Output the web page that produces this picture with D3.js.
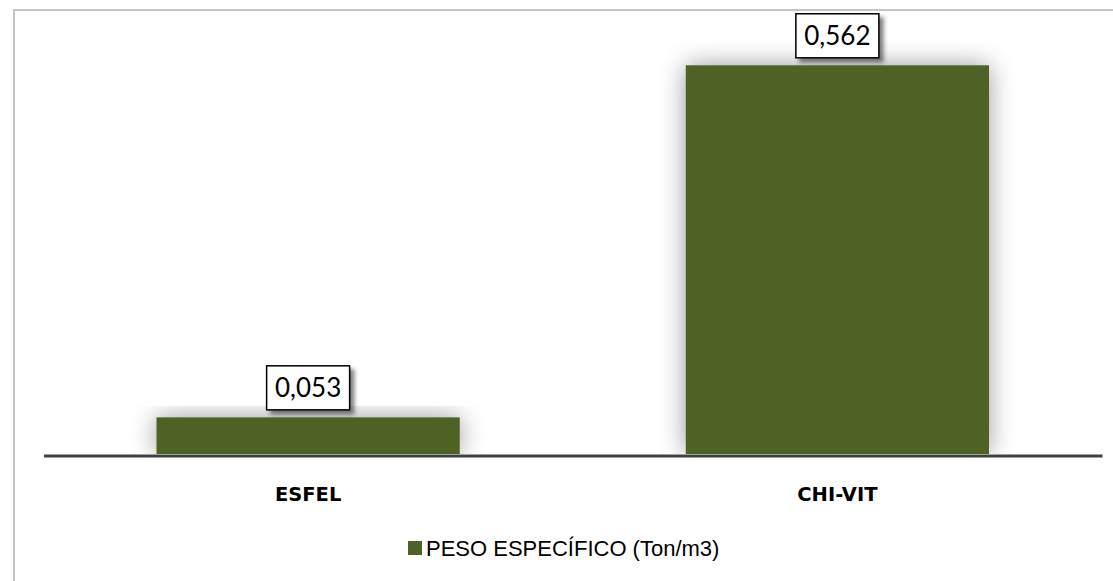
<!DOCTYPE html>
<html>
<head>
<meta charset="utf-8">
<script src="https://cdn.jsdelivr.net/npm/d3@7/dist/d3.min.js"></script>
<style>
  html, body { margin: 0; padding: 0; background: #fff; }
  svg { display: block; }
</style>
</head>
<body>
<svg id="chart" width="1113" height="581"></svg>
<script>
// Chart data
const categories = ["ESFEL", "CHI-VIT"];
const values = [0.053, 0.562];
const valueLabels = ["0,053", "0,562"];
const seriesName = "PESO ESPECÍFICO (Ton/m3)";
const yDomain = [0, 0.6];

const W = 1113, H = 581;
const svg = d3.select("#chart");
const barColor = "#4f6228";

// Filters: soft halo around bars, drop shadow under labels
const defs = svg.append("defs");
const halo = defs.append("filter").attr("id", "halo")
  .attr("x", "-30%").attr("y", "-30%").attr("width", "160%").attr("height", "160%");
halo.append("feGaussianBlur").attr("in", "SourceAlpha").attr("stdDeviation", 13).attr("result", "b");
halo.append("feComponentTransfer").attr("in", "b").attr("result", "c")
  .append("feFuncA").attr("type", "linear").attr("slope", 0.4);
const hm = halo.append("feMerge");
hm.append("feMergeNode").attr("in", "c");
hm.append("feMergeNode").attr("in", "SourceGraphic");

const ds = defs.append("filter").attr("id", "lblShadow")
  .attr("x", "-20%").attr("y", "-20%").attr("width", "150%").attr("height", "160%");
ds.append("feDropShadow").attr("dx", 4).attr("dy", 4).attr("stdDeviation", 2.2)
  .attr("flood-color", "#000").attr("flood-opacity", 0.5);

// Scales
const x = d3.scaleBand().domain(categories).range([43.5, 1102]).paddingInner(0).paddingOuter(0);
const y = d3.scaleLinear().domain(yDomain).range([454, 39]);
const barFrac = 0.573;

// Keep the bar halo above the category axis
defs.append("clipPath").attr("id", "plotClip")
  .append("rect").attr("x", 0).attr("y", 0).attr("width", W).attr("height", y(0));

// Chart frame
svg.append("rect")
  .attr("x", 14).attr("y", 10).attr("width", W + 20).attr("height", H + 20)
  .attr("fill", "none").attr("stroke", "#c4c4c4").attr("stroke-width", 2);

const data = categories.map((c, i) => ({ cat: c, v: values[i], lbl: valueLabels[i] }));

// Bars
svg.append("g").attr("clip-path", "url(#plotClip)")
  .selectAll("rect").data(data).join("rect")
  .attr("x", d => x(d.cat) + x.bandwidth() * (1 - barFrac) / 2)
  .attr("width", x.bandwidth() * barFrac)
  .attr("y", d => y(d.v))
  .attr("height", d => y(0) - y(d.v))
  .attr("fill", barColor)
  .attr("filter", "url(#halo)");

// Category axis
const xAxis = svg.append("g").attr("transform", `translate(0,${y(0) + 1.5})`)
  .call(d3.axisBottom(x).tickSize(0).tickPadding(0));
xAxis.select(".domain").attr("stroke", "#404040").attr("stroke-width", 3);
xAxis.selectAll(".tick text")
  .attr("dy", 0).attr("y", 45.5)
  .attr("font-family", "'DejaVu Sans', sans-serif")
  .attr("font-weight", "bold")
  .attr("font-size", 19.5)
  .attr("fill", "#000");

// Value labels in boxes
const lbl = svg.append("g").selectAll("g").data(data).join("g")
  .attr("transform", d => `translate(${x(d.cat) + x.bandwidth() / 2},${y(d.v) - 7.5})`);
lbl.append("rect")
  .attr("x", -41.5).attr("y", -44).attr("width", 83).attr("height", 44)
  .attr("fill", "#fff").attr("stroke", "#000").attr("stroke-width", 1.5)
  .attr("filter", "url(#lblShadow)");
lbl.append("text")
  .attr("x", 0).attr("y", -12.5)
  .attr("text-anchor", "middle")
  .attr("font-family", "Lato, sans-serif")
  .attr("font-size", 26)
  .attr("fill", "#000")
  .text(d => d.lbl);

// Legend
const leg = svg.append("g").attr("transform", "translate(408,541)");
leg.append("rect").attr("x", 0).attr("y", 0).attr("width", 14).attr("height", 14).attr("fill", barColor);
leg.append("text")
  .attr("x", 18).attr("y", 15)
  .attr("font-family", "'Liberation Sans', Arial, sans-serif")
  .attr("font-size", 22)
  .attr("fill", "#000")
  .text(seriesName);
</script>
</body>
</html>
